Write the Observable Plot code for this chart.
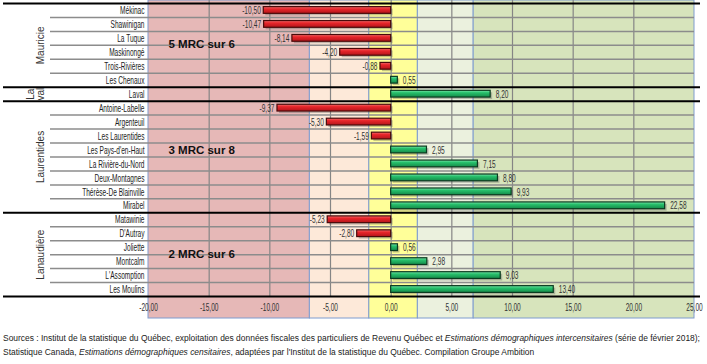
<!DOCTYPE html>
<html><head><meta charset="utf-8">
<script src="https://cdn.jsdelivr.net/npm/d3@7"></script>
<script src="https://cdn.jsdelivr.net/npm/@observablehq/plot@0.6"></script>
<style>
body{margin:0;background:#fff;}
#chart svg{display:block;}
#cap{font-family:"Liberation Sans",Arial,sans-serif;font-size:8.45px;color:#222;line-height:14px;margin:9px 0 0 3px;white-space:nowrap}
</style></head><body><div id="chart"></div>
<div id="cap">Sources : Institut de la statistique du Québec, exploitation des données fiscales des particuliers de Revenu Québec et <i>Estimations démographiques intercensitaires</i> (série de février 2018);<br>Statistique Canada, <i>Estimations démographiques censitaires</i>, adaptées par l'Institut de la statistique du Québec. Compilation Groupe Ambition</div>
<script>
const mrc = ["Mékinac","Shawinigan","La Tuque","Maskinongé","Trois-Rivières","Les Chenaux","Laval","Antoine-Labelle","Argenteuil","Les Laurentides","Les Pays-d'en-Haut","La Rivière-du-Nord","Deux-Montagnes","Thérèse-De Blainville","Mirabel","Matawinie","D'Autray","Joliette","Montcalm","L'Assomption","Les Moulins"];
const values = [-10.50,-10.47,-8.14,-4.20,-0.88,0.55,8.20,-9.37,-5.30,-1.59,2.95,7.15,8.80,9.93,22.58,-5.23,-2.80,0.56,2.98,9.03,13.40];
const regions = ["Mauricie","Mauricie","Mauricie","Mauricie","Mauricie","Mauricie","Laval","Laurentides","Laurentides","Laurentides","Laurentides","Laurentides","Laurentides","Laurentides","Laurentides","Lanaudière","Lanaudière","Lanaudière","Lanaudière","Lanaudière","Lanaudière"];
const regionNames = ["Mauricie","Laurentides","Lanaudière"];
const regionCenterRow = ["La Tuque","Les Pays-d'en-Haut","Joliette"];
const lavalLabel = "La\nval";
const noteLabels = ["5 MRC sur 6","3 MRC sur 8","2 MRC sur 6"];
const noteRows = ["La Tuque","Les Pays-d'en-Haut","Joliette"];
const noteShift = [6, 0, 7];
const xDomain = [-20, 25];
const xTicks = [-20,-15,-10,-5,0,5,10,15,20,25];
const bandEdges = [-20,-6.7,-1.8,2.2,6.8,25];
const bandColors = ["#e6b8b7","#fde9d9","#ffff99","#ebf1de","#d7e4bc"];

const data = mrc.map((name,i)=>({name, value: values[i], region: regions[i]}));
const firstRows = data.filter((d,i)=> i===0 || regions[i-1]!==d.region).map(d=>d.name);
const innerRows = data.filter((d,i)=> i>0 && regions[i-1]===d.region).map(d=>d.name);
const bands = bandColors.map((c,i)=>({x1: bandEdges[i], x2: bandEdges[i+1], fill: c}));
const notes = noteLabels.map((t,i)=>({label:t, at: noteRows[i], shift: noteShift[i]}));

const loc = d3.formatLocale({decimal:",", thousands:" ", grouping:[3], currency:["",""], minus:"-"});
const fmt = loc.format(".2f");

const H = 322, yTop = 3, yBot = 296;
const step = (yBot - yTop) / mrc.length;
const sans = "'Liberation Sans',Arial,sans-serif";
const narrowSize = 11.5;
const squeeze = 0.57;

const regionMarks = regionNames.map((r,i) =>
  Plot.text([r], {x: ()=>xDomain[0], dx: -108, y: ()=>regionCenterRow[i], dy: step/2, rotate:-90, textAnchor:"middle", text: d=>d, fontFamily:sans, fontSize:10, fill:"#333"}));

const chart = Plot.plot({
  width: 707, height: H,
  marginTop: 0, marginBottom: 4, marginLeft: 3, marginRight: 7,
  x: {domain: xDomain, range: [148, 694], axis: null},
  y: {domain: mrc, range: [yTop, yBot], padding: 0, round: false, axis: null},
  marks: [
    Plot.rectX(bands, {x1:"x1", x2:"x2", fill:"fill", stroke:"#7f9ccf", strokeWidth:1}),
    Plot.ruleX(xTicks.filter(t=>t>xDomain[0] && t<xDomain[1]), {x: d=>d, stroke:"#858585", strokeWidth:1.2, insetBottom: H-4-yBot}),
    Plot.ruleY(innerRows, {y: d=>d, dy: -step/2, stroke:"#8c8c8c", strokeWidth:1.5, insetLeft:47, insetRight:6}),
    Plot.ruleY(firstRows, {y: d=>d, dy: -step/2, stroke:"#000", strokeWidth:2}),
    Plot.ruleY([mrc[mrc.length-1]], {y: d=>d, dy: step/2, stroke:"#000", strokeWidth:2}),
    Plot.barX(data, {x:"value", y:"name", fill:"#555", fillOpacity:0.35, insetTop:3.6, insetBottom:3.6, dx:2, dy:2}),
    Plot.barX(data.filter(d=>d.value<0), {x:"value", y:"name", fill:"url(#gradRed)", stroke:"#4a0a0a", strokeWidth:1.2, insetTop:3.6, insetBottom:3.6}),
    Plot.barX(data.filter(d=>d.value>=0), {x:"value", y:"name", fill:"url(#gradGreen)", stroke:"#0a3a1f", strokeWidth:1.2, insetTop:3.6, insetBottom:3.6}),
    Plot.text(data.filter(d=>d.value<0), {x:"value", y:"name", text: d=>fmt(d.value), textAnchor:"end", dx:-3, fontFamily:sans, fontSize:narrowSize, fill:"#333"}),
    Plot.text(data.filter(d=>d.value>=0), {x:"value", y:"name", text: d=>fmt(d.value), textAnchor:"start", dx:5, fontFamily:sans, fontSize:narrowSize, fill:"#333"}),
    Plot.text(data, {x: ()=>xDomain[0], y:"name", text:"name", textAnchor:"end", dx:-4, fontFamily:sans, fontSize:narrowSize, fill:"#222"}),
    Plot.text(xTicks, {x: d=>d, frameAnchor:"bottom", dy:-8, text: d=>fmt(d), fontFamily:sans, fontSize:narrowSize, fill:"#333"}),
    Plot.text(notes, {x: ()=>xDomain[0], y:"at", text:"label", textAnchor:"start", dx:20, fontFamily:sans, fontWeight:"bold", fontSize:11.5, fill:"#111",
      render(index, scales, values, dims, ctx, next){ const g = next(index, scales, values, dims, ctx); d3.select(g).selectAll("text").each(function(_,k){ const t=d3.select(this); const tr=t.attr("transform")||""; t.attr("transform", tr+` translate(0,${notes[index[k]].shift})`); }); return g; }}),
    ...regionMarks,
    Plot.text([lavalLabel], {x: ()=>xDomain[0], dx: -113, y: ()=>"Laval", rotate:-90, textAnchor:"middle", text: d=>d, lineHeight:1.05, fontFamily:sans, fontSize:10, fill:"#333"})
  ]
});
// gradient fills for the bars
const defs = d3.select(chart).insert("defs", ":first-child");
const addGrad = (id, stops) => {
  const g = defs.append("linearGradient").attr("id", id).attr("x1",0).attr("x2",0).attr("y1",0).attr("y2",1);
  stops.forEach(([o,c]) => g.append("stop").attr("offset", o).attr("stop-color", c));
};
addGrad("gradRed", [[0,"#f6706f"],[0.35,"#e8262b"],[1,"#b3141a"]]);
addGrad("gradGreen", [[0,"#7ee8ad"],[0.35,"#27c06c"],[1,"#148a48"]]);
document.getElementById("chart").appendChild(chart);
// condensed look: compress the small labels horizontally
chart.querySelectorAll("text").forEach(el => {
  if (parseFloat(getComputedStyle(el).fontSize) !== narrowSize || getComputedStyle(el).fontWeight >= 600) return;
  const w = el.getComputedTextLength();
  if (!(w > 0)) return;
  el.setAttribute("textLength", (w*squeeze).toFixed(2));
  el.setAttribute("lengthAdjust", "spacingAndGlyphs");
});
</script></body></html>
